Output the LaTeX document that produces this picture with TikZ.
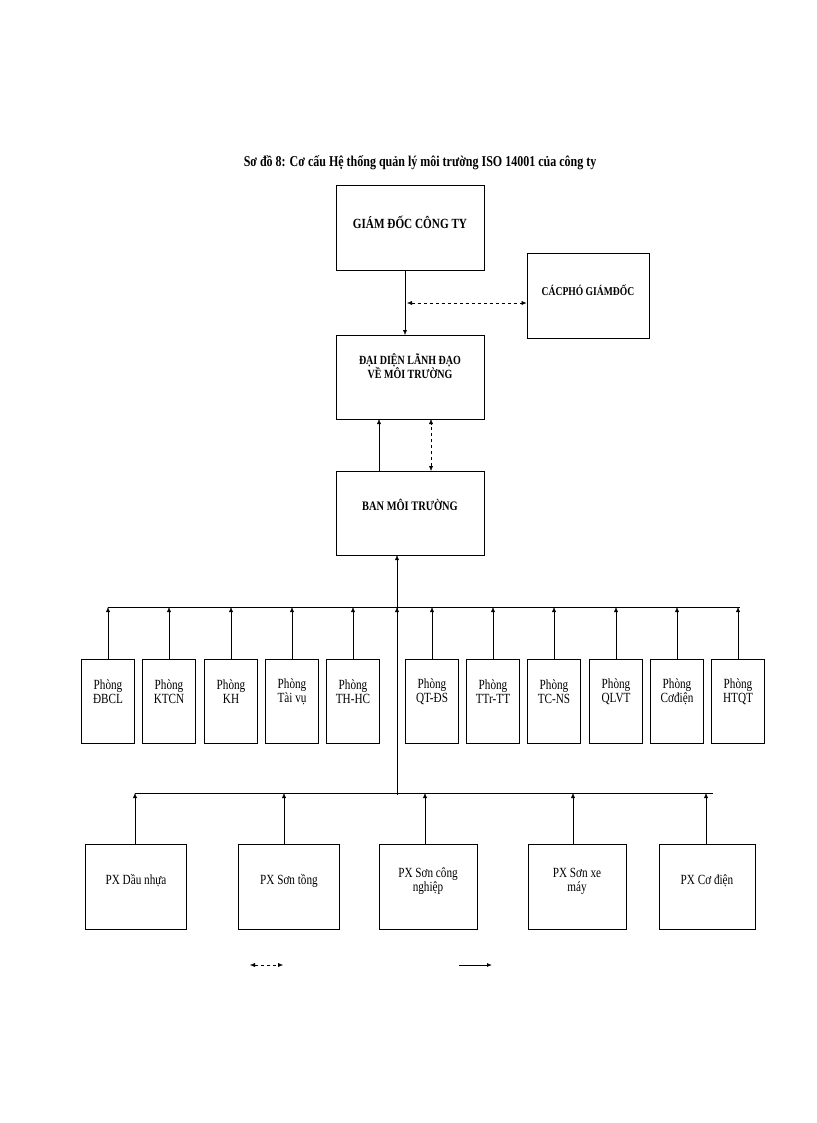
\documentclass[tikz,border=0pt]{standalone}
\usepackage{fontspec}
\setmainfont{Liberation Serif}[FakeStretch=0.8]
\usetikzlibrary{arrows.meta}
\begin{document}
\begin{tikzpicture}[x=1pt,y=-1pt,
 box/.style={draw,thick,minimum width=#1,inner sep=0pt},
 ar/.style={-{Latex[length=5pt,width=4pt]}},
 dar/.style={{Latex[length=5pt,width=4pt]}-{Latex[length=5pt,width=4pt]},dashed},
 lbl/.style={font=\fontsize{14}{14}\selectfont,align=center}]
\useasboundingbox (0,0) rectangle (816,1123);
\node[lbl,font=\bfseries\fontsize{15}{15}\selectfont] (title) at (420,163) {Sơ đồ 8: Cơ cấu Hệ thống quản lý môi trường ISO 14001 của công ty};
\node[draw,thick,minimum width=148pt,minimum height=85pt] (gd) at (410,227.5) {};
\node[lbl,font=\bfseries\fontsize{14}{14}\selectfont] (gdt) at (410,222) {GIÁM ĐỐC CÔNG TY};
\node[draw,thick,minimum width=122pt,minimum height=85pt] (pgd) at (588,295.5) {};
\node[lbl,font=\bfseries\fontsize{12}{12}\selectfont] (pgdt) at (588,290) {CÁCPHÓ GIÁMĐỐC};
\node[draw,thick,minimum width=148pt,minimum height=84pt] (dd) at (410,377) {};
\node[lbl,font=\bfseries\fontsize{12.5}{12}\selectfont] (ddt) at (410,366) {ĐẠI DIỆN LÃNH ĐẠO\\VỀ MÔI TRƯỜNG};
\node[draw,thick,minimum width=148pt,minimum height=84pt] (ban) at (410,513) {};
\node[lbl,font=\bfseries\fontsize{13}{13}\selectfont] (bant) at (410,505) {BAN MÔI TRƯỜNG};
\draw[ar] (405,270) -- (405,335);
\coordinate (m1) at (407,303);
\draw[dar] (m1) -- (pgd.west |- m1);
\draw[ar] (379,471) -- (379,419);
\draw[dar] (431,471) -- (431,419);
\draw[ar] (397,795) -- (397,555);
\draw[ar] (397,700) -- (397,607);
\draw[thick] (108,607) -- (740,607);
\draw[thick] (135,793) -- (713,793);
\foreach \x/\t [count=\i] in {108/ĐBCL,169/KTCN,231/KH,292/Tài vụ,353/TH-HC,432/QT-ĐS,493/TTr-TT,554/TC-NS,616/QLVT,677/Cơđiện,738/HTQT}{
  \node[draw,thick,minimum width=53pt,minimum height=84pt] (p\i) at (\x,701) {};
  \node[lbl] (pt\i) at (\x,692) {Phòng\\\t};
  \draw[ar] (p\i.north) -- (\x,607);
}
\foreach \x/\w/\t [count=\i] in {136/101/PX Dầu nhựa,289/101/PX Sơn tồng,428/98/PX Sơn công\\nghiệp,577/98/PX Sơn xe\\máy,707/96/PX Cơ điện}{
  \node[draw,thick,minimum width=\w pt,minimum height=85pt] (x\i) at (\x,886.5) {};
  \node[lbl] (xt\i) at (\x,881) {\t};
}
\foreach \i/\x in {1/135,2/284,3/425,4/573,5/706}{\draw[ar] (x\i.north -| \x,0) -- (\x,793);}
\coordinate (l1) at (250,965); \coordinate (l2) at (283,965);
\coordinate (l3) at (459,965); \coordinate (l4) at (492,965);
\draw[dar] (l1) -- (l2);
\draw[ar,thick] (l3) -- (l4);
\end{tikzpicture}
\end{document}
